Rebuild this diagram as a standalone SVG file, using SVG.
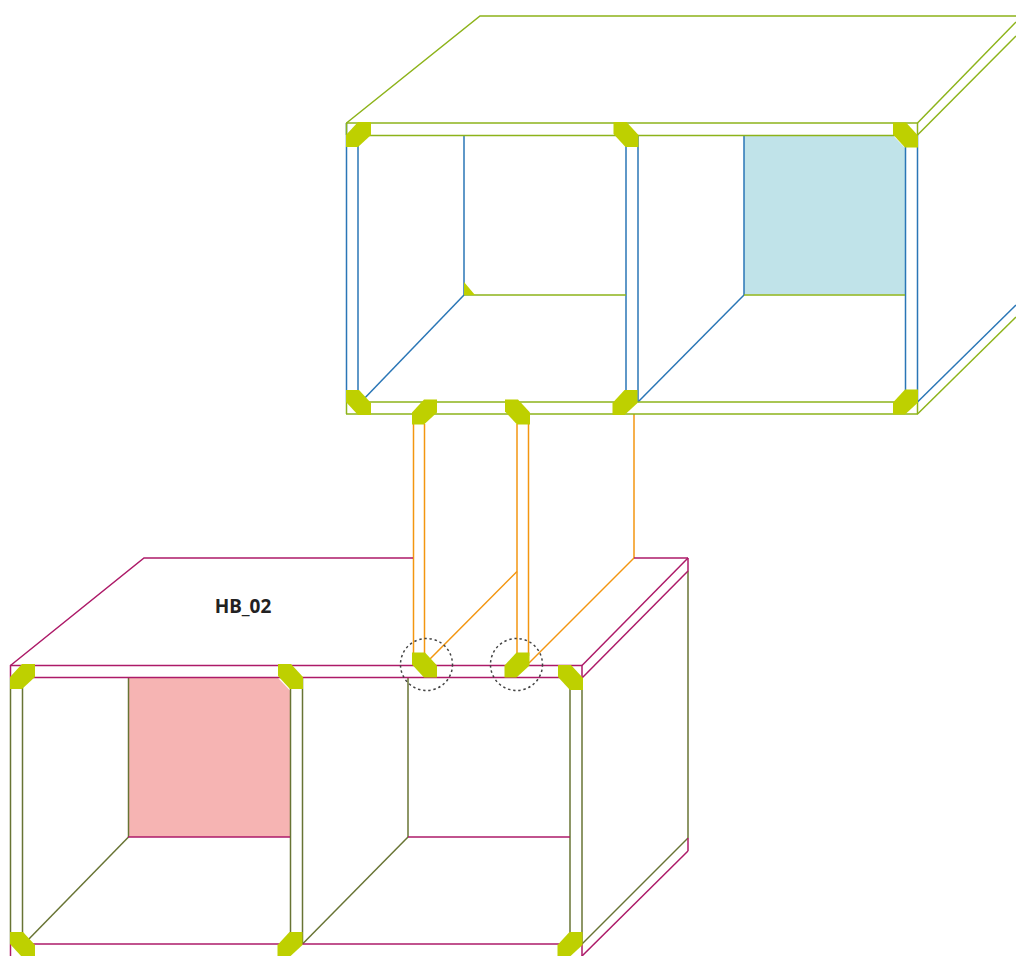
<svg xmlns="http://www.w3.org/2000/svg" width="1016" height="956" viewBox="0 0 1016 956">
<style>
line,polyline{fill:none;stroke-width:1.5}
.g line,.g polyline{stroke:#8db31a}
.b line,.b polyline{stroke:#2a76b6}
.m line,.m polyline{stroke:#ad1a68}
.o line,.o polyline{stroke:#687434}
.y line,.y polyline{stroke:#f39610}
.c{fill:#bed000}
.t{fill:#c0e3e9}
.r{fill:#f6b4b3}
.d{fill:none;stroke:#444;stroke-width:1.5;stroke-dasharray:2.4 2.8}
.l{font-family:"Noto Sans","Open Sans",sans-serif;font-weight:700;font-size:19px;fill:#222}
</style>
<defs>
<polygon id="bs" points="0,0 13,0 25,13 25,25 12,25 0,12"/>
<polygon id="fs" points="12,0 25,0 25,13 12,25 0,25 0,13"/>
</defs>
<rect width="1016" height="956" fill="#fff"/>
<g id="connectors" class="y">
<line x1="413.5" y1="424" x2="413.5" y2="656"/>
<line x1="424.5" y1="424" x2="424.5" y2="656"/>
<line x1="517" y1="424" x2="517" y2="656"/>
<line x1="528.5" y1="424" x2="528.5" y2="656"/>
<line x1="634" y1="414" x2="634" y2="558"/>
<line x1="634" y1="558" x2="529" y2="663"/>
<line x1="517" y1="571.5" x2="430" y2="659"/>
</g>
<g id="box-top">
<polygon class="t" points="744,135.5 893,135.5 905,148 905,294.5 744,294.5"/>
<g class="b">
<line x1="346.5" y1="123" x2="346.5" y2="402"/>
<line x1="358" y1="135" x2="358" y2="402"/>
<line x1="626" y1="135" x2="626" y2="402"/>
<line x1="638" y1="135" x2="638" y2="402"/>
<line x1="905.5" y1="135" x2="905.5" y2="402"/>
<line x1="917.5" y1="135" x2="917.5" y2="402"/>
<line x1="464" y1="135" x2="464" y2="295"/>
<line x1="744" y1="135" x2="744" y2="295"/>
<line x1="361" y1="402" x2="464" y2="295"/>
<line x1="638" y1="402" x2="744" y2="295"/>
<line x1="917.5" y1="402" x2="1016" y2="305"/>
</g>
<g class="g">
<polyline points="346.5,123 480,16 1016,16"/>
<line x1="346" y1="123" x2="918" y2="123"/>
<line x1="346" y1="135.5" x2="906" y2="135.5"/>
<line x1="346" y1="402" x2="918" y2="402"/>
<line x1="346" y1="414" x2="918" y2="414"/>
<line x1="346.5" y1="123" x2="346.5" y2="135"/>
<line x1="917.5" y1="123" x2="917.5" y2="135"/>
<line x1="346.5" y1="402" x2="346.5" y2="414"/>
<line x1="917.5" y1="402" x2="917.5" y2="414"/>
<line x1="917.5" y1="123" x2="1016" y2="22"/>
<line x1="917.5" y1="135" x2="1016" y2="36"/>
<line x1="917.5" y1="414" x2="1016" y2="317"/>
<line x1="464" y1="295" x2="626" y2="295"/>
<line x1="744" y1="295" x2="905" y2="295"/>
</g>
<polygon class="c" points="464,282 475,295 464,295"/>
<use href="#fs" class="c" x="346" y="122"/>
<use href="#bs" class="c" x="613.5" y="122"/>
<use href="#bs" class="c" x="893" y="122.5"/>
<use href="#bs" class="c" x="346" y="390"/>
<use href="#fs" class="c" x="412" y="399.5"/>
<use href="#bs" class="c" x="505" y="399.5"/>
<use href="#fs" class="c" x="612.5" y="390"/>
<use href="#fs" class="c" x="893" y="389.5"/>
</g>
<g id="box-bottom">
<polygon class="r" points="128.5,678 278,678 290.5,691 290.5,837 128.5,837"/>
<g class="o">
<line x1="10.5" y1="678" x2="10.5" y2="944"/>
<line x1="22.5" y1="678" x2="22.5" y2="944"/>
<line x1="290.5" y1="678" x2="290.5" y2="944"/>
<line x1="302.5" y1="678" x2="302.5" y2="944"/>
<line x1="570" y1="678" x2="570" y2="944"/>
<line x1="582" y1="678" x2="582" y2="944"/>
<line x1="128.5" y1="678" x2="128.5" y2="837"/>
<line x1="408" y1="678" x2="408" y2="837"/>
<line x1="688" y1="571" x2="688" y2="838"/>
<line x1="26" y1="942" x2="128.5" y2="837"/>
<line x1="302.5" y1="944" x2="408" y2="837"/>
<line x1="582" y1="944" x2="688" y2="838"/>
</g>
<g class="m">
<polyline points="10.5,665.5 144,558 413,558"/>
<line x1="634" y1="558" x2="688" y2="558"/>
<line x1="10" y1="665.5" x2="582" y2="665.5"/>
<line x1="10" y1="677.5" x2="570" y2="677.5"/>
<line x1="10" y1="944" x2="582" y2="944"/>
<line x1="10.5" y1="665" x2="10.5" y2="678"/>
<line x1="582" y1="665" x2="582" y2="678"/>
<line x1="10.5" y1="944" x2="10.5" y2="956"/>
<line x1="582" y1="944" x2="582" y2="956"/>
<line x1="582" y1="665.5" x2="688" y2="558"/>
<line x1="582" y1="678" x2="688" y2="571"/>
<line x1="688" y1="558" x2="688" y2="571"/>
<line x1="688" y1="838" x2="688" y2="851"/>
<line x1="582" y1="956" x2="688" y2="851"/>
<line x1="128" y1="837" x2="290" y2="837"/>
<line x1="408" y1="837" x2="570" y2="837"/>
</g>
<use href="#fs" class="c" x="10" y="664"/>
<use href="#bs" class="c" x="278" y="664"/>
<use href="#bs" class="c" x="412" y="652.5"/>
<use href="#fs" class="c" x="504.5" y="652.5"/>
<use href="#bs" class="c" x="558" y="665"/>
<use href="#bs" class="c" x="10" y="932"/>
<use href="#fs" class="c" x="277.5" y="932"/>
<use href="#fs" class="c" x="557.5" y="932"/>
<circle class="d" cx="426.5" cy="664.5" r="26"/>
<circle class="d" cx="516.5" cy="664.5" r="26"/>
<text class="l" x="243" y="613" text-anchor="middle">HB_02</text>
</g>
</svg>
